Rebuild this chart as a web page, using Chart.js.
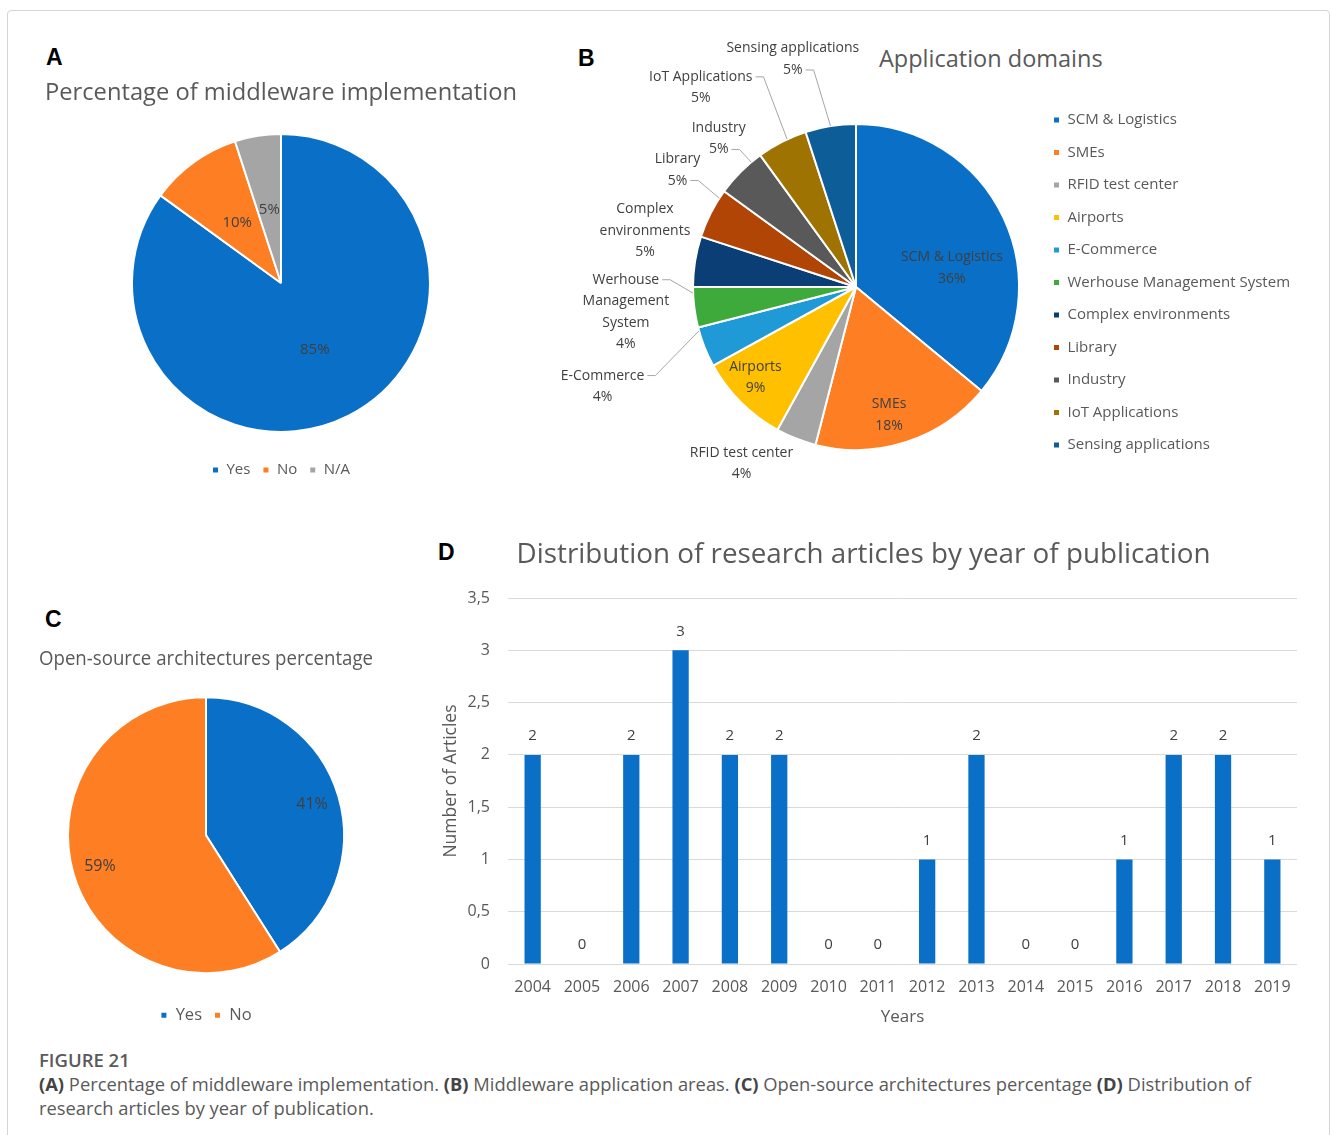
<!DOCTYPE html>
<html>
<head>
<meta charset="utf-8">
<script src="https://cdn.jsdelivr.net/npm/chart.js@4.4.0/dist/chart.umd.min.js"></script>
<style>
  body { margin: 0; background: #fff; font-family: 'Open Sans', sans-serif; }
  #page { position: relative; width: 1331px; height: 1135px; overflow: hidden; }
  .frame { position: absolute; left: 7px; top: 10px; width: 1321px; height: 1140px; border: 1px solid #d4d4d4; border-radius: 4px; }
  canvas { position: absolute; }
  .tag { position: absolute; font: bold 23px 'Liberation Sans', Arial, sans-serif; line-height: 22px; color: #000; }
  .btitle { position: absolute; left: 879px; top: 43px; font-size: 23.5px; line-height: 30px; color: #595959; }
  .fig { position: absolute; left: 39px; top: 1048px; font-size: 18.5px; font-weight: 600; color: #5a5a5a; line-height: 24px; }
  .cap { position: absolute; left: 39px; top: 1072px; font-size: 18.35px; color: #5a5a5a; line-height: 24px; white-space: nowrap; }
  .cap b { font-weight: 700; color: #444; }
</style>
</head>
<body>
<div id="page">
  <div class="frame"></div>
  <div class="tag" style="left:46px;top:46px">A</div>
  <div class="tag" style="left:578px;top:47px">B</div>
  <div class="tag" style="left:45px;top:608px">C</div>
  <div class="tag" style="left:438px;top:541px">D</div>
  <div class="btitle">Application domains</div>

  <canvas id="chartA" width="540" height="440" style="left:20px;top:60px"></canvas>
  <canvas id="chartB" width="791" height="470" style="left:540px;top:30px"></canvas>
  <canvas id="chartC" width="390" height="410" style="left:20px;top:630px"></canvas>
  <canvas id="chartD" width="892" height="510" style="left:420px;top:530px"></canvas>

  <div class="fig">FIGURE 21</div>
  <div class="cap"><b>(A)</b> Percentage of middleware implementation. <b>(B)</b> Middleware application areas. <b>(C)</b> Open-source architectures percentage <b>(D)</b> Distribution of<br>research articles by year of publication.</div>
</div>
<script>
// panel A
const implLabels = ['Yes', 'No', 'N/A'];
const implValues = [85, 10, 5];

// panel B
const domainLabels = ['SCM & Logistics', 'SMEs', 'RFID test center', 'Airports', 'E-Commerce',
  'Werhouse Management System', 'Complex environments', 'Library', 'Industry',
  'IoT Applications', 'Sensing applications'];
const domainValues = [36, 18, 4, 9, 4, 4, 5, 5, 5, 5, 5];

// panel C
const openLabels = ['Yes', 'No'];
const openValues = [41, 59];

// panel D
const years = ['2004', '2005', '2006', '2007', '2008', '2009', '2010', '2011',
  '2012', '2013', '2014', '2015', '2016', '2017', '2018', '2019'];
const articleCounts = [2, 0, 2, 3, 2, 2, 0, 0, 1, 2, 0, 0, 1, 2, 2, 1];
const yTickLabels = ['0', '0,5', '1', '1,5', '2', '2,5', '3', '3,5'];

const blue = '#0A6FC6';
const orange = '#FD7E23';
const grey = '#A5A5A5';
const domainColors = ['#0A6FC6', '#FD7E23', '#A5A5A5', '#FFC000', '#1F9AD6', '#3FAA3C',
  '#0B3E75', '#B04505', '#595959', '#9E7302', '#0D5D98'];

Chart.defaults.font.family = "'Open Sans', sans-serif";
Chart.defaults.color = '#595959';
Chart.defaults.animation = false;
Chart.defaults.plugins.tooltip.enabled = false;

// percentage labels (and names / leader lines) on pie slices
const sliceLabels = {
  id: 'sliceLabels',
  afterDatasetsDraw(chart, args, opts) {
    const ctx = chart.ctx;
    const arcs = chart.getDatasetMeta(0).data;
    const values = chart.data.datasets[0].data;
    const names = chart.data.labels;
    const lh = opts.lineHeight;
    ctx.save();
    ctx.font = opts.font;
    ctx.fillStyle = opts.color;
    ctx.textAlign = 'center';
    ctx.textBaseline = 'middle';
    arcs.forEach((arc, i) => {
      const s = opts.spots[i];
      const mid = (arc.startAngle + arc.endAngle) / 2;
      const a = mid + (s.da || 0) * Math.PI / 180;
      const d = arc.outerRadius * s.r;
      const cx = arc.x + Math.cos(a) * d;
      const cy = arc.y + Math.sin(a) * d;
      let lines = [];
      if (s.name) lines = s.wrap ? names[i].split(' ') : [names[i]];
      lines.push(values[i] + '%');
      const top = cy - (lines.length - 1) * lh / 2;
      lines.forEach((t, k) => ctx.fillText(t, cx, top + k * lh));
      if (s.lead) {
        const ry = top + s.lead.row * lh;
        const x1 = cx + ctx.measureText(lines[s.lead.row]).width / 2 + 3;
        const la = mid + (s.lead.da || 0) * Math.PI / 180;
        ctx.strokeStyle = '#a6a6a6';
        ctx.lineWidth = 1;
        ctx.beginPath();
        ctx.moveTo(x1, ry);
        ctx.lineTo(x1 + 8, ry);
        ctx.lineTo(arc.x + Math.cos(la) * arc.outerRadius, arc.y + Math.sin(la) * arc.outerRadius);
        ctx.stroke();
      }
    });
    ctx.restore();
  }
};

// value labels above bars
const barValues = {
  id: 'barValues',
  afterDatasetsDraw(chart, args, opts) {
    const ctx = chart.ctx;
    const values = chart.data.datasets[0].data;
    ctx.save();
    ctx.font = opts.font;
    ctx.fillStyle = opts.color;
    ctx.textAlign = 'center';
    ctx.textBaseline = 'middle';
    chart.getDatasetMeta(0).data.forEach((bar, i) => {
      ctx.fillText(values[i], bar.x, bar.y - opts.offset);
    });
    ctx.restore();
  }
};

// legend of B sits to the right; its width decides the right padding
const legendFontB = 15;
const legendPadB = 17.5;
const measure = document.createElement('canvas').getContext('2d');
measure.font = legendFontB + "px 'Open Sans', sans-serif";
const legendTextW = Math.max(...domainLabels.map(t => measure.measureText(t).width));
const legendWidthB = legendPadB + 7 + legendFontB / 2 + legendTextW + 10;
const legendLeftB = 1035.5;
const padRightB = (540 + 791) - legendLeftB - legendWidthB;

new Chart(document.getElementById('chartA'), {
  type: 'pie',
  data: {
    labels: implLabels,
    datasets: [{ data: implValues, backgroundColor: [blue, orange, grey], borderColor: '#fff', borderWidth: 2, radius: 149 }]
  },
  plugins: [sliceLabels],
  options: {
    responsive: false,
    layout: { padding: { left: 25, right: 43, top: 0, bottom: 12.5 } },
    plugins: {
      title: {
        display: true, text: 'Percentage of middleware implementation', align: 'start',
        font: { size: 24, weight: 'normal' }, color: '#595959', padding: { top: 18.6, bottom: 8.1 }
      },
      legend: { position: 'bottom', labels: { boxWidth: 7, boxHeight: 7, font: { size: 15 }, color: '#595959', padding: 12 } },
      sliceLabels: {
        font: "15px 'Open Sans'", color: '#404040', lineHeight: 20,
        spots: [{ r: 0.5 }, { r: 0.5 }, { r: 0.5 }]
      }
    }
  }
});

new Chart(document.getElementById('chartB'), {
  type: 'pie',
  data: {
    labels: domainLabels,
    datasets: [{ data: domainValues, backgroundColor: domainColors, borderColor: '#fff', borderWidth: 2, radius: 163 }]
  },
  plugins: [sliceLabels],
  options: {
    responsive: false,
    layout: { padding: { left: 1712 - legendLeftB - 540, right: padRightB, top: 65, bottom: 21 } },
    plugins: {
      legend: {
        position: 'right', align: 'start',
        labels: { boxWidth: 7, boxHeight: 7, font: { size: legendFontB }, color: '#595959', padding: legendPadB }
      },
      sliceLabels: {
        font: "14px 'Open Sans'", color: '#404040', lineHeight: 21.5,
        spots: [
          { r: 0.6, da: 13.9, name: true },
          { r: 0.81, da: 3.5, name: true },
          { r: 1.29, da: 11.4, name: true },
          { r: 0.83, da: 3, name: true },
          { r: 1.67, da: 0.2, name: true, lead: { row: 0, da: 6 } },
          { r: 1.42, da: 1, name: true, wrap: true, lead: { row: 0, da: 5 } },
          { r: 1.34, da: 5.9, name: true, wrap: true },
          { r: 1.31, da: 6.3, name: true, lead: { row: 1, da: 6 } },
          { r: 1.24, da: 2.2, name: true, lead: { row: 1, da: 5 } },
          { r: 1.55, da: -10.9, name: true, lead: { row: 0, da: 2 } },
          { r: 1.45, da: -6.5, name: true, lead: { row: 1, da: 0 } }
        ]
      }
    }
  }
});

new Chart(document.getElementById('chartC'), {
  type: 'pie',
  data: {
    labels: openLabels,
    datasets: [{ data: openValues, backgroundColor: [blue, orange], borderColor: '#fff', borderWidth: 2, radius: 138 }]
  },
  plugins: [sliceLabels],
  options: {
    responsive: false,
    layout: { padding: { left: 19, right: 37, top: 0, bottom: 6.5 } },
    plugins: {
      title: {
        display: true, text: 'Open-source architectures percentage', align: 'start',
        font: { size: 19.5, weight: 'normal' }, color: '#595959', padding: { top: 17.3, bottom: 4.8 }
      },
      legend: { position: 'bottom', labels: { boxWidth: 7, boxHeight: 7, font: { size: 16.5 }, color: '#595959', padding: 12 } },
      sliceLabels: {
        font: "16px 'Open Sans'", color: '#404040', lineHeight: 20,
        spots: [{ r: 0.8 }, { r: 0.8 }]
      }
    }
  }
});

new Chart(document.getElementById('chartD'), {
  type: 'bar',
  data: {
    labels: years,
    datasets: [{ data: articleCounts, backgroundColor: blue, barPercentage: 0.33, categoryPercentage: 1 }]
  },
  plugins: [barValues],
  options: {
    responsive: false,
    layout: { padding: { left: 10, right: 15, top: 0, bottom: 0 } },
    plugins: {
      legend: { display: false },
      title: {
        display: true, text: 'Distribution of research articles by year of publication',
        font: { size: 27.8, weight: 'normal' }, color: '#595959', padding: { top: 8.3, bottom: 26.4 }
      },
      barValues: { font: "15px 'Open Sans'", color: '#404040', offset: 19 }
    },
    scales: {
      x: {
        grid: { display: false, drawTicks: false },
        border: { display: false },
        ticks: { padding: 14, font: { size: 16 }, color: '#595959' },
        title: { display: true, text: 'Years', font: { size: 17 }, color: '#595959', padding: { top: 8, bottom: 12.8 } },
        afterFit: (s) => { s.height = 76; }
      },
      y: {
        min: 0, max: 3.5,
        grid: { color: '#d9d9d9', drawTicks: false },
        border: { display: false },
        ticks: { stepSize: 0.5, padding: 18, font: { size: 16 }, color: '#595959', callback: (v, i) => yTickLabels[i] },
        title: { display: true, text: 'Number of Articles', font: { size: 17.5 }, color: '#595959', padding: { top: 10.5, bottom: 6 } },
        afterFit: (s) => { s.width = 78; }
      }
    }
  }
});
</script>
</body>
</html>
